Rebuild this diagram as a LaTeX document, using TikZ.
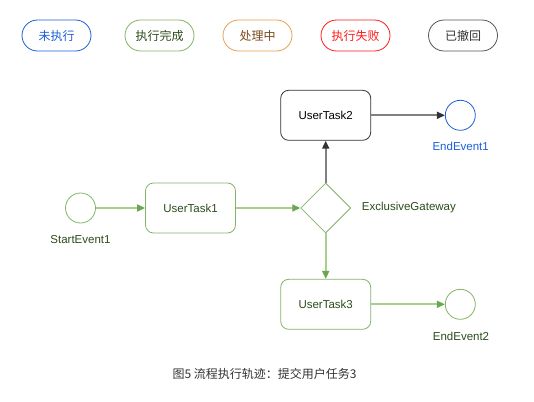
\documentclass[tikz,border=0pt]{standalone}
\usepackage{fontspec}
\setmainfont{Liberation Sans}
\newfontfamily\cjk{Noto Sans CJK SC}
\usepackage{tikz}
\usetikzlibrary{shapes.geometric}
\usetikzlibrary{arrows.meta,positioning}
\definecolor{gborder}{HTML}{82B366}
\definecolor{gline}{HTML}{A9CF8E}
\definecolor{ghead}{HTML}{6AA84F}
\definecolor{gtext}{HTML}{2D4A1A}
\definecolor{bblue}{HTML}{1A5FD6}
\definecolor{borange}{HTML}{E6A050}
\definecolor{torange}{HTML}{7A4A1A}
\definecolor{bred}{HTML}{FF1A1A}
\definecolor{bgray}{HTML}{555555}
\definecolor{tgray}{HTML}{333333}
\tikzstyle{pill}=[rounded corners=15.5pt, minimum width=69pt, minimum height=31pt, line width=0.8pt, font=\cjk\fontsize{12}{14}\selectfont]
\tikzstyle{task}=[draw=gborder, rounded corners=8pt, minimum width=90pt, minimum height=50pt, line width=0.8pt, text=gtext, font=\fontsize{11.5}{13}\selectfont]
\tikzstyle{event}=[circle, draw=gborder, minimum size=30pt, inner sep=0pt, line width=0.8pt]
\tikzstyle{gate}=[diamond, draw=gborder, minimum width=50pt, minimum height=50pt, inner sep=0pt, aspect=1, line width=0.8pt]
\tikzstyle{lbl}=[text=gtext, font=\fontsize{11.5}{13}\selectfont, inner sep=0pt]
\tikzstyle{done>}=[draw=gline, line width=1.8pt, -{Triangle[length=8pt,width=7pt,color=ghead]}]
\tikzstyle{todo>}=[draw=gray, line width=1.8pt, -{Triangle[length=8pt,width=7pt,color=tgray]}]

\begin{document}
\begin{tikzpicture}[x=1pt, y=-1pt]
\useasboundingbox (0,0) rectangle (534,401);
% legend
\foreach \n/\x/\t/\c/\tc in {1/56.5/未执行/bblue/bblue, 2/159.5/执行完成/gborder/gtext, 3/257.5/处理中/borange/torange, 4/355.5/执行失败/bred/bred, 5/463/已撤回/bgray/tgray} {
 \node[pill, draw=\c, text=\tc] (leg\n) at (\x,35.5) {\t};
}
% flow
\node[event] (start1) at (80.5,208) {};
\node[lbl] (start1lbl) at (80.5,240) {StartEvent1};
\node[task] (task1) at (190.5,208) {UserTask1};
\node[gate] (gw) at (325.7,208) {};
\node[lbl, anchor=west] (gwlbl) at (361.7,208) {ExclusiveGateway};
\node[task, draw=tgray, text=black] (task2) at (325.7,115.3) {UserTask2};
\node[event, draw=bblue] (end1) at (460.3,115.3) {};
\node[lbl, text=bblue] (end1lbl) at (460.7,146.7) {EndEvent1};
\node[task] (task3) at (325.7,304.3) {UserTask3};
\node[event] (end2) at (460.3,304.3) {};
\node[lbl] (end2lbl) at (461,336) {EndEvent2};

\draw[done>] (start1) -- (task1);
\draw[done>] (task1) -- (gw);
\draw[todo>] (gw) -- (task2);
\draw[todo>] (task2) -- (end1);
\draw[done>] (gw) -- (task3);
\draw[done>] (task3) -- (end2);
% caption
\node[text=tgray, font=\cjk\fontsize{12}{14}\selectfont] (cap) at (264.5,374) {图5 流程执行轨迹：提交用户任务3};
\end{tikzpicture}
\end{document}
